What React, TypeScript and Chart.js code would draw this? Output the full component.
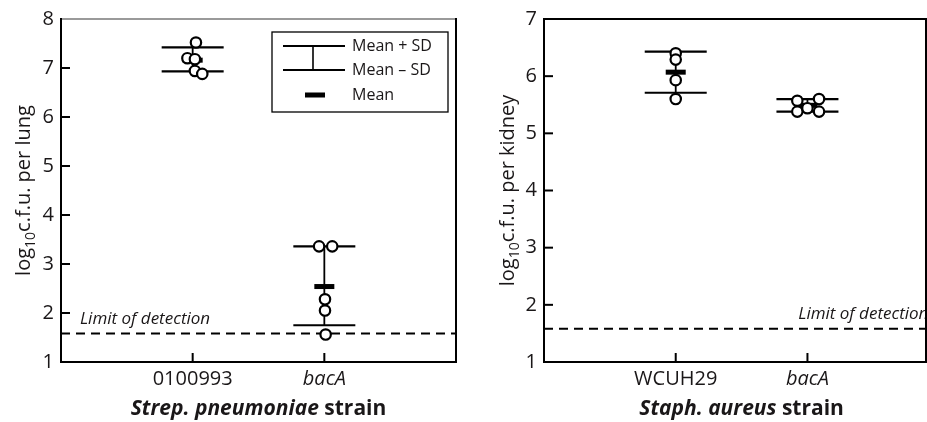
import React, { useEffect, useRef } from 'react';
import { Chart, registerables } from 'chart.js';

Chart.register(...registerables);

// ---------- Data: left panel (Strep. pneumoniae, lung) ----------
const lungCategories = ['0100993', 'bacA'];
const lungPointsX = [1.025, 0.96, 1.017, 1.017, 1.073, 1.96, 2.06, 2.005, 2.005, 2.01];
const lungPointsY = [7.52, 7.2, 7.18, 6.94, 6.88, 3.36, 3.36, 2.28, 2.05, 1.56];
const lungMeans = [7.16, 2.54];
const lungUpper = [7.42, 3.36];
const lungLower = [6.93, 1.75];
const lungLimit = 1.58;
const lungYMin = 1;
const lungYMax = 8;

// ---------- Data: right panel (Staph. aureus, kidney) ----------
const kidneyCategories = ['WCUH29', 'bacA'];
const kidneyPointsX = [1, 1, 1, 1, 1.923, 1.923, 2.0, 2.088, 2.088];
const kidneyPointsY = [6.4, 6.29, 5.93, 5.6, 5.57, 5.38, 5.44, 5.6, 5.38];
const kidneyMeans = [6.07, 5.49];
const kidneyUpper = [6.43, 5.6];
const kidneyLower = [5.71, 5.38];
const kidneyLimit = 1.58;
const kidneyYMin = 1;
const kidneyYMax = 7;

const FONT = '"Open Sans", "Noto Sans", sans-serif';
const INK = '#1a1718';
const LINE = '#000000';

type PanelCfg = {
  categories: string[];
  px: number[];
  py: number[];
  means: number[];
  upper: number[];
  lower: number[];
  limit: number;
  yMin: number;
  yMax: number;
  xMax: number;
  yAxisWidth: number;
  padRight: number;
  yTitleMain: string;
  yTitleX: number;
  xTitleItalic: string;
  xTitleRest: string;
  limitTextX: number; // in x data units
  showLegend: boolean;
  topBorderColor: string;
};

function makePlugin(cfg: PanelCfg) {
  return {
    id: 'panelDeco',
    beforeDatasetsDraw(chart: any) {
      const ctx: CanvasRenderingContext2D = chart.ctx;
      const xs = chart.scales.x;
      const ys = chart.scales.y;
      const { left, right, top, bottom } = chart.chartArea;
      ctx.save();

      // dashed limit of detection
      const ly = ys.getPixelForValue(cfg.limit);
      ctx.strokeStyle = LINE;
      ctx.lineWidth = 2;
      ctx.setLineDash([9, 6]);
      ctx.beginPath();
      ctx.moveTo(left, ly);
      ctx.lineTo(right, ly);
      ctx.stroke();
      ctx.setLineDash([]);

      ctx.fillStyle = INK;
      ctx.font = `italic 17px ${FONT}`;
      ctx.textAlign = 'left';
      ctx.textBaseline = 'alphabetic';
      ctx.fillText('Limit of detection', xs.getPixelForValue(cfg.limitTextX), ly - 10);

      // frame
      ctx.lineWidth = 2;
      ctx.strokeStyle = cfg.topBorderColor;
      ctx.beginPath();
      ctx.moveTo(left, top);
      ctx.lineTo(right, top);
      ctx.stroke();
      ctx.strokeStyle = LINE;
      ctx.beginPath();
      ctx.moveTo(left, top - 1);
      ctx.lineTo(left, bottom);
      ctx.lineTo(right, bottom);
      ctx.lineTo(right, top - 1);
      ctx.stroke();

      // inward ticks
      ctx.lineWidth = 2;
      for (let v = cfg.yMin + 1; v < cfg.yMax; v++) {
        const y = ys.getPixelForValue(v);
        ctx.beginPath();
        ctx.moveTo(left, y);
        ctx.lineTo(left + 9, y);
        ctx.stroke();
      }
      cfg.categories.forEach((_, i) => {
        const x = xs.getPixelForValue(i + 1);
        ctx.beginPath();
        ctx.moveTo(x, bottom);
        ctx.lineTo(x, bottom - 9);
        ctx.stroke();
      });

      // error bars
      cfg.categories.forEach((_, i) => {
        const cx = xs.getPixelForValue(i + 1);
        const yu = ys.getPixelForValue(cfg.upper[i]);
        const yl = ys.getPixelForValue(cfg.lower[i]);
        const ym = ys.getPixelForValue(cfg.means[i]);
        ctx.strokeStyle = LINE;
        ctx.lineWidth = 1.8;
        ctx.beginPath();
        ctx.moveTo(cx, yu);
        ctx.lineTo(cx, yl);
        ctx.stroke();
        ctx.lineWidth = 2.2;
        ctx.beginPath();
        ctx.moveTo(cx - 31, yu);
        ctx.lineTo(cx + 31, yu);
        ctx.moveTo(cx - 31, yl);
        ctx.lineTo(cx + 31, yl);
        ctx.stroke();
        ctx.fillStyle = LINE;
        ctx.fillRect(cx - 10, ym - 2.5, 20, 5);
      });

      // y title with subscript
      const yc = (top + bottom) / 2;
      ctx.save();
      ctx.translate(cfg.yTitleX, yc);
      ctx.rotate(-Math.PI / 2);
      ctx.fillStyle = INK;
      ctx.textBaseline = 'alphabetic';
      ctx.textAlign = 'left';
      ctx.font = `20px ${FONT}`;
      const w1 = ctx.measureText('log').width;
      const w3 = ctx.measureText(cfg.yTitleMain).width;
      ctx.font = `14px ${FONT}`;
      const w2 = ctx.measureText('10').width;
      let sx = -(w1 + w2 + w3) / 2;
      const base = 7;
      ctx.font = `20px ${FONT}`;
      ctx.fillText('log', sx, base);
      sx += w1;
      ctx.font = `14px ${FONT}`;
      ctx.fillText('10', sx, base + 5);
      sx += w2;
      ctx.font = `20px ${FONT}`;
      ctx.fillText(cfg.yTitleMain, sx, base);
      ctx.restore();

      // x title
      const xc = xs.getPixelForValue(1.5);
      ctx.font = `italic bold 21px ${FONT}`;
      const a = ctx.measureText(cfg.xTitleItalic).width;
      ctx.font = `bold 21px ${FONT}`;
      const b = ctx.measureText(cfg.xTitleRest).width;
      let tx = xc - (a + b) / 2;
      ctx.textAlign = 'left';
      ctx.fillStyle = INK;
      ctx.font = `italic bold 21px ${FONT}`;
      ctx.fillText(cfg.xTitleItalic, tx, 415);
      tx += a;
      ctx.font = `bold 21px ${FONT}`;
      ctx.fillText(cfg.xTitleRest, tx, 415);

      // legend
      if (cfg.showLegend) {
        const bx = right - 184;
        const by = top + 13;
        ctx.strokeStyle = LINE;
        ctx.lineWidth = 1.3;
        ctx.strokeRect(bx, by, 176, 80);
        ctx.lineWidth = 2.2;
        const l1 = by + 14;
        const l2 = by + 38;
        const l3 = by + 63;
        ctx.beginPath();
        ctx.moveTo(bx + 11, l1);
        ctx.lineTo(bx + 73, l1);
        ctx.moveTo(bx + 11, l2);
        ctx.lineTo(bx + 73, l2);
        ctx.stroke();
        ctx.lineWidth = 1.6;
        ctx.beginPath();
        ctx.moveTo(bx + 41, l1);
        ctx.lineTo(bx + 41, l2);
        ctx.stroke();
        ctx.fillStyle = LINE;
        ctx.fillRect(bx + 33, l3 - 2.5, 20, 5);
        ctx.fillStyle = INK;
        ctx.font = `16px ${FONT}`;
        ctx.textBaseline = 'middle';
        ctx.fillText('Mean + SD', bx + 80, l1);
        ctx.fillText('Mean \u2013 SD', bx + 80, l2);
        ctx.fillText('Mean', bx + 80, l3);
      }
      ctx.restore();
    },
  };
}

function Panel({ cfg, width, height }: { cfg: PanelCfg; width: number; height: number }) {
  const ref = useRef<HTMLCanvasElement | null>(null);
  useEffect(() => {
    if (!ref.current) return;
    const points = cfg.px.map((x, i) => ({ x, y: cfg.py[i] }));
    const chart = new Chart(ref.current, {
      type: 'scatter',
      data: {
        datasets: [
          {
            data: points,
            pointRadius: 5.2,
            pointHoverRadius: 5.2,
            pointBackgroundColor: '#ffffff',
            pointBorderColor: LINE,
            pointBorderWidth: 2.2,
          },
        ],
      },
      options: {
        responsive: false,
        animation: false,
        devicePixelRatio: 1,
        layout: { padding: { left: 0, top: 19, right: cfg.padRight, bottom: 0 } },
        plugins: { legend: { display: false }, tooltip: { enabled: false } },
        scales: {
          x: {
            type: 'linear',
            min: 0,
            max: cfg.xMax,
            grid: { display: false, drawTicks: false },
            border: { display: false },
            afterBuildTicks: (axis: any) => {
              axis.ticks = cfg.categories.map((_, i) => ({ value: i + 1 }));
            },
            afterFit: (axis: any) => {
              axis.height = 60;
            },
            ticks: {
              autoSkip: false,
              maxRotation: 0,
              padding: 5,
              color: INK,
              font: (c: any) => ({
                family: FONT,
                size: 20,
                style: c.index === 1 ? 'italic' : 'normal',
              }),
              callback: (v: any) => cfg.categories[Math.round(Number(v)) - 1] ?? '',
            },
          },
          y: {
            min: cfg.yMin,
            max: cfg.yMax,
            grid: { display: false, drawTicks: false },
            border: { display: false },
            afterFit: (axis: any) => {
              axis.width = cfg.yAxisWidth;
            },
            ticks: {
              stepSize: 1,
              padding: 7,
              color: INK,
              font: { family: FONT, size: 20 },
            },
          },
        },
      },
      plugins: [makePlugin(cfg)],
    });
    return () => chart.destroy();
  }, []);
  return <canvas ref={ref} width={width} height={height} style={{ width, height, display: 'block' }} />;
}

const leftCfg: PanelCfg = {
  categories: lungCategories,
  px: lungPointsX,
  py: lungPointsY,
  means: lungMeans,
  upper: lungUpper,
  lower: lungLower,
  limit: lungLimit,
  yMin: lungYMin,
  yMax: lungYMax,
  xMax: 3,
  yAxisWidth: 61,
  padRight: 14,
  yTitleMain: 'c.f.u. per lung',
  yTitleX: 23,
  xTitleItalic: 'Strep. pneumoniae',
  xTitleRest: ' strain',
  limitTextX: 0.144,
  showLegend: true,
  topBorderColor: '#9a9a9a',
};

const rightCfg: PanelCfg = {
  categories: kidneyCategories,
  px: kidneyPointsX,
  py: kidneyPointsY,
  means: kidneyMeans,
  upper: kidneyUpper,
  lower: kidneyLower,
  limit: kidneyLimit,
  yMin: kidneyYMin,
  yMax: kidneyYMax,
  xMax: 2.9,
  yAxisWidth: 84,
  padRight: 14,
  yTitleMain: 'c.f.u. per kidney',
  yTitleX: 47,
  xTitleItalic: 'Staph. aureus',
  xTitleRest: ' strain',
  limitTextX: 1.93,
  showLegend: false,
  topBorderColor: LINE,
};

export default function App() {
  return (
    <div
      style={{
        position: 'fixed',
        left: 0,
        top: 0,
        width: 927,
        height: 422,
        overflow: 'hidden',
        background: '#fff',
      }}
    >
      <div style={{ position: 'absolute', left: 0, top: 0 }}>
        <Panel cfg={leftCfg} width={470} height={422} />
      </div>
      <div style={{ position: 'absolute', left: 460, top: 0 }}>
        <Panel cfg={rightCfg} width={480} height={422} />
      </div>
    </div>
  );
}
